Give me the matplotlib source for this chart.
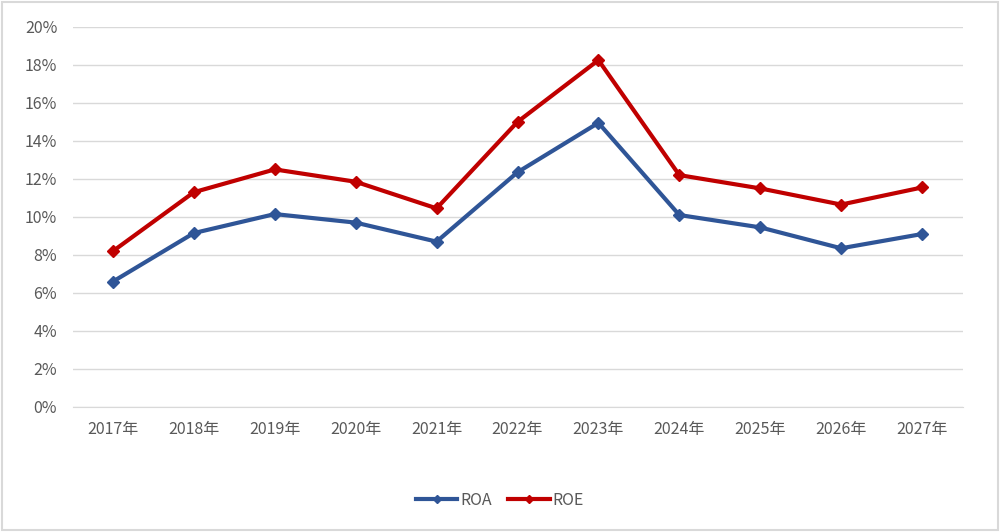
import matplotlib.pyplot as plt
from matplotlib.ticker import FuncFormatter

plt.rcParams['font.family'] = ['Noto Sans CJK SC', 'DejaVu Sans']

# 数据
years = ['2017年', '2018年', '2019年', '2020年', '2021年', '2022年',
         '2023年', '2024年', '2025年', '2026年', '2027年']
roa = [6.6, 9.15, 10.15, 9.7, 8.7, 12.35, 14.95, 10.1, 9.45, 8.35, 9.1]
roe = [8.2, 11.3, 12.5, 11.85, 10.45, 15.0, 18.25, 12.2, 11.5, 10.65, 11.55]

fig = plt.figure(figsize=(10, 5.32), dpi=100)
ax = fig.add_axes([0.0725, 0.235, 0.89, 0.7145])

x = range(len(years))
ax.plot(x, roa, color='#2F5597', lw=3, marker='D', ms=6.5, label='ROA')
ax.plot(x, roe, color='#C00000', lw=3, marker='D', ms=6.5, label='ROE')

ax.set_xlim(-0.5, len(years) - 0.5)
ax.set_ylim(0, 20)
ax.set_yticks(range(0, 21, 2))
ax.yaxis.set_major_formatter(FuncFormatter(lambda v, p: f'{v:.0f}%'))
ax.set_xticks(list(x))
ax.set_xticklabels(years)
ax.grid(axis='y', color='#D9D9D9', lw=1)
ax.set_axisbelow(True)
for s in ['top', 'right', 'left']:
    ax.spines[s].set_visible(False)
ax.spines['bottom'].set_color('#D9D9D9')
ax.tick_params(length=0, labelsize=11.5, colors='#595959', pad=10)
ax.tick_params(axis='y', pad=11)
for lab in ax.get_xticklabels() + ax.get_yticklabels():
    lab.set_fontweight('medium')

leg = fig.legend(loc='center', bbox_to_anchor=(0.5, 0.06), ncol=2, frameon=False,
                 fontsize=11.5, handlelength=2.6, columnspacing=1.0, handletextpad=0.2,
                 markerscale=0.6)
for t in leg.get_texts():
    t.set_color('#595959')
    t.set_fontweight('medium')

# 外框
fig.patches.append(plt.Rectangle((0.002, 0.003), 0.996, 0.994, transform=fig.transFigure,
                                 fill=False, edgecolor='#D9D9D9', lw=1.5))

fig.savefig('out.png', dpi=100)
plt.close()
